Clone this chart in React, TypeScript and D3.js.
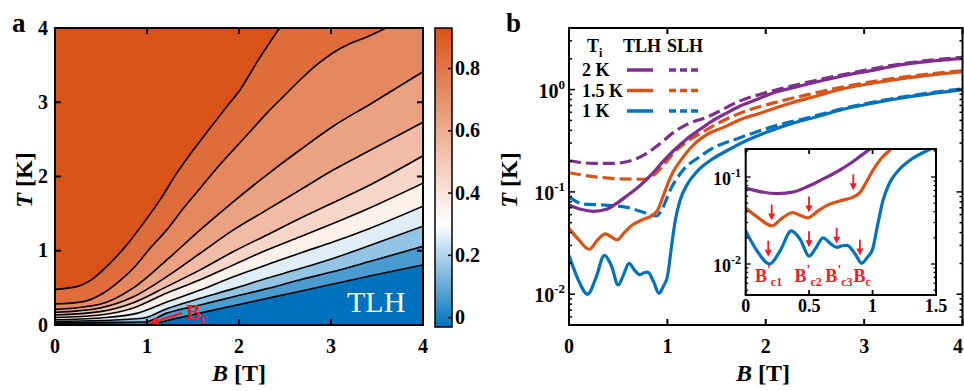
import React from 'react';
import * as d3 from 'd3';

type P = [number, number];

// ---------- Panel a: contour lines (B [T], T [K]) ----------
const contour1: P[] = [[0,0.48],[0.236,0.517],[0.417,0.629],[0.598,0.831],[0.78,1.079],[0.961,1.371],[1.142,1.685],[1.324,2.045],[1.505,2.36],[1.686,2.652],[1.868,2.944],[2.013,3.169],[2.2,3.55],[2.44,4.0]];
const contour2: P[] = [[0,0.283],[0.308,0.315],[0.49,0.404],[0.671,0.562],[0.852,0.764],[1.034,1.034],[1.215,1.281],[1.396,1.573],[1.578,1.843],[1.759,2.112],[1.94,2.36],[2.122,2.607],[2.303,2.854],[2.484,3.079],[2.666,3.303],[2.847,3.506],[3.028,3.67],[3.209,3.79],[3.39,3.88],[3.6,4.0]];
const contour3: P[] = [[0,0.21],[0.49,0.28],[0.852,0.5],[1.215,0.876],[1.578,1.281],[1.94,1.663],[2.303,2.022],[2.666,2.36],[3.028,2.68],[3.42,2.97],[4,3.41]];
const contour4: P[] = [[0,0.17],[0.49,0.23],[0.852,0.38],[1.215,0.652],[1.578,0.966],[1.94,1.281],[2.303,1.551],[2.666,1.82],[3.028,2.09],[3.39,2.33],[4,2.73]];
const contour5: P[] = [[0,0.135],[0.49,0.18],[0.852,0.3],[1.215,0.517],[1.578,0.742],[1.94,0.989],[2.303,1.213],[2.666,1.438],[3.028,1.65],[3.39,1.865],[4,2.28]];
const contour6: P[] = [[0,0.1],[0.49,0.135],[0.852,0.23],[1.215,0.43],[1.578,0.61],[1.94,0.81],[2.303,1.01],[2.666,1.19],[3.028,1.37],[3.42,1.576],[4,1.91]];
const contour7: P[] = [[0,0.07],[0.49,0.095],[0.9,0.16],[1.215,0.31],[1.578,0.47],[1.94,0.65],[2.303,0.81],[2.666,0.97],[3.028,1.12],[3.42,1.3],[4,1.6]];
const contour8: P[] = [[0,0.045],[0.5,0.06],[0.95,0.09],[1.215,0.22],[1.578,0.36],[1.94,0.49],[2.303,0.63],[2.666,0.76],[3.028,0.9],[3.42,1.07],[4,1.33]];
const contour9: P[] = [[0,0.025],[0.5,0.035],[0.98,0.04],[1.215,0.16],[1.578,0.27],[1.94,0.38],[2.303,0.49],[2.666,0.61],[3.028,0.72],[3.42,0.855],[4,1.06]];
const contour10: P[] = [[0,0.01],[0.5,0.012],[1.0,0.006],[1.3,0.085],[1.94,0.26],[2.666,0.455],[3.42,0.66],[4,0.81]];
const contours = [contour1, contour2, contour3, contour4, contour5, contour6, contour7, contour8, contour9, contour10];
// fill value of each band, from top band to bottom band
const bandValues = [0.93, 0.834, 0.738, 0.642, 0.546, 0.45, 0.354, 0.258, 0.162, 0.066, -0.03];
const colorbarTicks = [0, 0.2, 0.4, 0.6, 0.8];
const axisTicksA = [0, 1, 2, 3, 4];
// Bc arrow in panel a: tail and tip in (B, T)
const bcArrowTail: P = [1.38, 0.16];
const bcArrowTip: P = [1.02, 0.02];

// ---------- Panel b: T(B) curves ----------
const tlh2K: P[] = [[0,0.0746],[0.12,0.0676],[0.25,0.0646],[0.38,0.0676],[0.48,0.0767],[0.6,0.0933],[0.72,0.115],[0.83,0.145],[0.93,0.186],[1.06,0.251],[1.2,0.331],[1.33,0.407],[1.45,0.49],[1.6,0.589],[1.74,0.692],[1.9,0.794],[2.08,0.933],[2.25,1.028],[2.45,1.148],[2.83,1.39],[3.1,1.549],[3.4,1.766],[3.7,1.905],[4,2.023]];
const slh2K: P[] = [[0,0.2018],[0.25,0.19],[0.45,0.19],[0.65,0.205],[0.79,0.238],[0.93,0.299],[1.06,0.38],[1.2,0.457],[1.4,0.537],[1.74,0.776],[2.08,0.977],[2.45,1.194],[2.83,1.429],[3.4,1.799],[4,2.065]];
const tlh15K: P[] = [[0,0.044],[0.1,0.0339],[0.205,0.0275],[0.29,0.0339],[0.37,0.0389],[0.43,0.0363],[0.49,0.0339],[0.56,0.0398],[0.64,0.0472],[0.74,0.0531],[0.85,0.0592],[0.9,0.0661],[0.95,0.0871],[1.0,0.1175],[1.06,0.158],[1.13,0.2],[1.2,0.245],[1.3,0.309],[1.4,0.363],[1.57,0.427],[1.75,0.513],[1.91,0.575],[2.1,0.661],[2.25,0.735],[2.45,0.832],[2.83,1.042],[3.1,1.161],[3.4,1.288],[3.7,1.396],[4,1.496]];
const slh15K: P[] = [[0,0.154],[0.25,0.141],[0.52,0.134],[0.76,0.133],[0.86,0.146],[0.99,0.197],[1.06,0.24],[1.13,0.275],[1.4,0.407],[1.74,0.589],[2.08,0.741],[2.45,0.902],[2.83,1.084],[3.4,1.324],[4,1.531]];
const tlh1K: P[] = [[0,0.024],[0.09,0.0141],[0.19,0.01],[0.27,0.0141],[0.36,0.024],[0.43,0.0191],[0.5,0.0123],[0.55,0.0151],[0.61,0.02],[0.67,0.017],[0.72,0.0155],[0.76,0.0162],[0.8,0.0164],[0.86,0.0132],[0.915,0.0102],[0.96,0.012],[1.0,0.0148],[1.04,0.0282],[1.08,0.0525],[1.13,0.0832],[1.2,0.1175],[1.3,0.158],[1.44,0.204],[1.6,0.251],[1.8,0.316],[2.0,0.38],[2.25,0.462],[2.5,0.537],[2.8,0.646],[3.1,0.741],[3.4,0.832],[3.7,0.918],[4,1.0]];
const slh1K: P[] = [[0,0.0897],[0.146,0.0762],[0.35,0.0745],[0.59,0.0706],[0.79,0.0618],[0.89,0.0581],[0.94,0.0661],[1.03,0.1047],[1.16,0.1637],[1.33,0.2208],[1.43,0.257],[1.74,0.339],[2.08,0.437],[2.45,0.537],[2.83,0.668],[3.4,0.851],[4,1.019]];
const seriesLabels = ['2 K', '1.5 K', '1 K'];
const seriesColors = ['#7e2f8e', '#d95319', '#0072bd'];
const axisTicksB = [0, 1, 2, 3, 4];
const logMajor = [0.01, 0.1, 1];
const insetTicksX = [0, 0.5, 1, 1.5];
const insetMajor = [0.01, 0.1];
// inset annotations: arrow [B, tip T]
const insetArrowsBlue: P[] = [[0.178, 0.0121], [0.499, 0.0156], [0.717, 0.0171], [0.9, 0.0125]];
const insetArrowsOrange: P[] = [[0.205, 0.0316], [0.499, 0.039], [0.848, 0.0703]];
const insetLabelB = [0.073, 0.385, 0.628, 0.85];
const insetLabelSub = ['c1', 'c2', 'c3', 'c'];
const insetLabelPrime = [true, true, true, false];

const FONT = "'Liberation Serif','Times New Roman',Times,serif";
const RED = '#ee1c24';

function logTicks(lo: number, hi: number) {
  const out: { v: number; major: boolean }[] = [];
  for (let e = -4; e <= 1; e++) {
    for (let m = 1; m <= 9; m++) {
      const v = m * Math.pow(10, e);
      if (v >= lo * 0.9999 && v <= hi * 1.0001) out.push({ v, major: m === 1 });
    }
  }
  return out;
}

export default function App() {
  // ----- panel a scales -----
  const xA = d3.scaleLinear().domain([0, 4]).range([55, 423]);
  const yA = d3.scaleLinear().domain([0, 4]).range([325, 28]);
  const cbY = d3.scaleLinear().domain([-0.03, 0.93]).range([327, 28]);
  const cmap = d3.scaleLinear<string>().domain([-0.03, 0.3, 0.93]).range(['#0072bd', '#ffffff', '#d95319']);

  const cLine = d3.line<P>().x(d => xA(d[0])).y(d => yA(d[1])).curve(d3.curveMonotoneX);
  const belowPath = (pts: P[]) => {
    const last = pts[pts.length - 1];
    let p = cLine(pts) as string;
    if (last[0] < 4) p += `L${xA(4)},${yA(4)}`;
    p += `L${xA(4)},${yA(0)}L${xA(0)},${yA(0)}Z`;
    return p;
  };

  // Bc arrow geometry
  const tx = xA(bcArrowTail[0]), ty = yA(bcArrowTail[1]);
  const hx = xA(bcArrowTip[0]), hy = yA(bcArrowTip[1]);
  const len = Math.hypot(hx - tx, hy - ty);
  const ux = (hx - tx) / len, uy = (hy - ty) / len;
  const px = -uy, py = ux;
  const headL = 10, headW = 4.2;
  const bx = hx - ux * headL, by = hy - uy * headL;
  const headPath = `M${hx},${hy}L${bx + px * headW},${by + py * headW}L${bx - px * headW},${by - py * headW}Z`;

  // ----- panel b scales -----
  const xB = d3.scaleLinear().domain([0, 4]).range([569, 962.5]);
  const yB = d3.scaleLog().domain([0.005, 4]).range([325, 28]);
  const xI = d3.scaleLinear().domain([0, 1.5]).range([745.7, 936]);
  const yI = d3.scaleLog().domain([0.0044, 0.21]).range([295, 149]);

  const lineB = d3.line<P>().x(d => xB(d[0])).y(d => yB(d[1])).curve(d3.curveMonotoneX);
  const lineI = d3.line<P>().x(d => xI(d[0])).y(d => yI(d[1])).curve(d3.curveMonotoneX);

  const tlh = [tlh2K, tlh15K, tlh1K];
  const slh = [slh2K, slh15K, slh1K];

  const txt = { fontFamily: FONT, fontWeight: 700 as const, fill: '#000' };

  const arrow = (x: number, yTip: number, l: number, key: string) => (
    <g key={key}>
      <line x1={x} y1={yTip - l} x2={x} y2={yTip - 5} stroke={RED} strokeWidth={1.8} />
      <path d={`M${x - 3.5},${yTip - 7}L${x + 3.5},${yTip - 7}L${x},${yTip}Z`} fill={RED} />
    </g>
  );

  const mainLog = logTicks(0.005, 4);
  const insetLog = logTicks(0.0044, 0.21);

  return (
    <svg width={964} height={391} viewBox="0 0 964 391" style={{ position: 'absolute', left: 0, top: 0, background: '#fff' }}>
      <defs>
        <clipPath id="clipA"><rect x={55} y={28} width={368} height={297} /></clipPath>
        <clipPath id="clipB"><rect x={569} y={28} width={393.5} height={297} /></clipPath>
        <clipPath id="clipI"><rect x={745.7} y={149} width={190.3} height={146} /></clipPath>
        <linearGradient id="cbGrad" x1="0" y1="1" x2="0" y2="0">
          <stop offset="0" stopColor={cmap(-0.03)} />
          <stop offset={(0.33 / 0.96).toString()} stopColor={cmap(0.3)} />
          <stop offset="1" stopColor={cmap(0.93)} />
        </linearGradient>
      </defs>
      <rect x={0} y={0} width={964} height={391} fill="#fff" />

      {/* ================= Panel a ================= */}
      <g clipPath="url(#clipA)">
        <rect x={55} y={28} width={368} height={297} fill={cmap(bandValues[0])} />
        {contours.map((c, i) => (
          <path key={'f' + i} d={belowPath(c)} fill={cmap(bandValues[i + 1])} stroke="none" />
        ))}
        {contours.map((c, i) => (
          <path key={'l' + i} d={cLine(c) as string} fill="none" stroke="#000" strokeWidth={1.6} />
        ))}
      </g>
      <rect x={55} y={28} width={368} height={297} fill="none" stroke="#000" strokeWidth={2} />
      {axisTicksA.map(t => (
        <g key={'ta' + t}>
          <line x1={xA(t)} x2={xA(t)} y1={325} y2={319} stroke="#000" strokeWidth={2} />
          <line x1={xA(t)} x2={xA(t)} y1={28} y2={34} stroke="#000" strokeWidth={2} />
          <line x1={55} x2={61} y1={yA(t)} y2={yA(t)} stroke="#000" strokeWidth={2} />
          <line x1={423} x2={417} y1={yA(t)} y2={yA(t)} stroke="#000" strokeWidth={2} />
          <text x={xA(t)} y={353} textAnchor="middle" fontSize={20} {...txt}>{t}</text>
          <text x={48} y={yA(t) + 6.5} textAnchor="end" fontSize={20} {...txt}>{t}</text>
        </g>
      ))}
      <text x={239} y={381} textAnchor="middle" fontSize={24} {...txt}>
        <tspan fontStyle="italic">B</tspan> [T]
      </text>
      <text transform="translate(32,180) rotate(-90)" textAnchor="middle" fontSize={24} {...txt}>
        <tspan fontStyle="italic">T</tspan> [K]
      </text>
      <text x={12} y={32} fontSize={27} {...txt}>a</text>
      <text x={347} y={312} fontSize={30} fontFamily={FONT} fill="#fff">TLH</text>
      {/* Bc annotation */}
      <line x1={tx} y1={ty} x2={bx} y2={by} stroke={RED} strokeWidth={2.4} />
      <path d={headPath} fill={RED} />
      <text x={186} y={319} fontSize={22} {...txt} fill={RED}>
        B<tspan fontSize={15} dy={4}>c</tspan>
      </text>

      {/* colorbar */}
      <rect x={435} y={28} width={17} height={299} fill="url(#cbGrad)" stroke="#000" strokeWidth={1.5} />
      {colorbarTicks.map(t => (
        <g key={'cb' + t}>
          <line x1={448} x2={452} y1={cbY(t)} y2={cbY(t)} stroke="#000" strokeWidth={1.5} />
          <text x={455} y={cbY(t) + 6.5} fontSize={20} {...txt}>{t}</text>
        </g>
      ))}

      {/* ================= Panel b ================= */}
      <g clipPath="url(#clipB)">
        {slh.map((s, i) => (
          <path key={'s' + i} d={lineB(s) as string} fill="none" stroke={seriesColors[i]} strokeWidth={3.2} strokeDasharray="12,5" />
        ))}
        {tlh.map((s, i) => (
          <path key={'t' + i} d={lineB(s) as string} fill="none" stroke={seriesColors[i]} strokeWidth={3.2} />
        ))}
      </g>
      <rect x={569} y={28} width={393.5} height={297} fill="none" stroke="#000" strokeWidth={2} />
      {axisTicksB.map(t => (
        <g key={'tb' + t}>
          <line x1={xB(t)} x2={xB(t)} y1={325} y2={319} stroke="#000" strokeWidth={2} />
          <line x1={xB(t)} x2={xB(t)} y1={28} y2={34} stroke="#000" strokeWidth={2} />
          <text x={Math.min(xB(t), 958)} y={353} textAnchor="middle" fontSize={20} {...txt}>{t}</text>
        </g>
      ))}
      {mainLog.map((t, i) => (
        <g key={'lb' + i}>
          <line x1={569} x2={569 + (t.major ? 6 : 3)} y1={yB(t.v)} y2={yB(t.v)} stroke="#000" strokeWidth={1.5} />
          <line x1={962.5} x2={962.5 - (t.major ? 6 : 3)} y1={yB(t.v)} y2={yB(t.v)} stroke="#000" strokeWidth={1.5} />
        </g>
      ))}
      {logMajor.map((v, i) => (
        <text key={'lm' + i} x={565} y={yB(v) + 8} textAnchor="end" fontSize={20} {...txt}>
          10<tspan dy={-9} fontSize={13}>{Math.round(Math.log10(v))}</tspan>
        </text>
      ))}
      <text x={763} y={381} textAnchor="middle" fontSize={24} {...txt}>
        <tspan fontStyle="italic">B</tspan> [T]
      </text>
      <text transform="translate(517,180) rotate(-90)" textAnchor="middle" fontSize={24} {...txt}>
        <tspan fontStyle="italic">T</tspan> [K]
      </text>
      <text x={506} y={32} fontSize={27} {...txt}>b</text>

      {/* legend */}
      <text x={587} y={52} fontSize={18} {...txt}>T<tspan fontSize={12} dy={5}>i</tspan></text>
      <text x={623} y={52} fontSize={18} {...txt}>TLH</text>
      <text x={667} y={52} fontSize={18} {...txt}>SLH</text>
      {seriesLabels.map((lab, i) => {
        const y = 70 + i * 20.5;
        return (
          <g key={'lg' + i}>
            <text x={582} y={y + 6} fontSize={18} {...txt}>{lab}</text>
            <line x1={627} x2={653} y1={y} y2={y} stroke={seriesColors[i]} strokeWidth={3.5} />
            <line x1={669} x2={698} y1={y} y2={y} stroke={seriesColors[i]} strokeWidth={3.5} strokeDasharray="7,4" />
          </g>
        );
      })}

      {/* ================= Inset ================= */}
      <rect x={745.7} y={149} width={190.3} height={146} fill="#fff" />
      <g clipPath="url(#clipI)">
        {tlh.map((s, i) => (
          <path key={'it' + i} d={lineI(s) as string} fill="none" stroke={seriesColors[i]} strokeWidth={3.2} />
        ))}
      </g>
      <rect x={745.7} y={149} width={190.3} height={146} fill="none" stroke="#000" strokeWidth={2} />
      {insetTicksX.map(t => (
        <g key={'ix' + t}>
          <line x1={xI(t)} x2={xI(t)} y1={295} y2={290} stroke="#000" strokeWidth={1.8} />
          <line x1={xI(t)} x2={xI(t)} y1={149} y2={154} stroke="#000" strokeWidth={1.8} />
          <text x={xI(t)} y={312} textAnchor="middle" fontSize={18} {...txt}>{t}</text>
        </g>
      ))}
      {insetLog.map((t, i) => (
        <g key={'il' + i}>
          <line x1={745.7} x2={745.7 + (t.major ? 5 : 2.5)} y1={yI(t.v)} y2={yI(t.v)} stroke="#000" strokeWidth={1.3} />
          <line x1={936} x2={936 - (t.major ? 5 : 2.5)} y1={yI(t.v)} y2={yI(t.v)} stroke="#000" strokeWidth={1.3} />
        </g>
      ))}
      {insetMajor.map((v, i) => (
        <text key={'im' + i} x={741} y={yI(v) + 8} textAnchor="end" fontSize={18} {...txt}>
          10<tspan dy={-8} fontSize={12}>{Math.round(Math.log10(v))}</tspan>
        </text>
      ))}
      {insetArrowsBlue.map((a, i) => arrow(xI(a[0]), yI(a[1]), 16, 'ab' + i))}
      {insetArrowsOrange.map((a, i) => arrow(xI(a[0]), yI(a[1]), 16, 'ao' + i))}
      {insetLabelB.map((b, i) => (
        <text key={'ib' + i} x={xI(b)} y={282} fontSize={18} {...txt} fill={RED}>
          B
          {insetLabelPrime[i] ? <tspan fontSize={14} dy={-7}>'</tspan> : null}
          <tspan fontSize={12} dy={insetLabelPrime[i] ? 11 : 4}>{insetLabelSub[i]}</tspan>
        </text>
      ))}
    </svg>
  );
}
